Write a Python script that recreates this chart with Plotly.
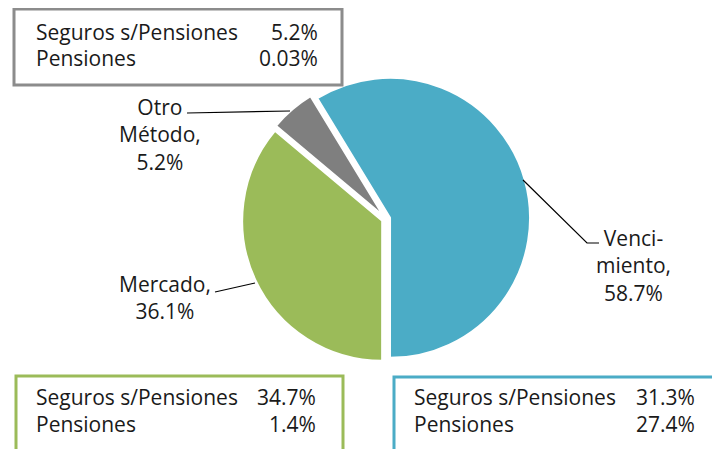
import plotly.graph_objects as go

# Datos
categorias = ["Vencimiento", "Mercado", "Otro Método"]
etiquetas = ["Venci-<br>miento", "Mercado", "Otro<br>Método"]
porcentajes = [58.7, 36.1, 5.2]
seguros_pct = ["31.3%", "34.7%", "5.2%"]
pensiones_pct = ["27.4%", "1.4%", "0.03%"]

COLORES = ["#4BACC6", "#9BBB59", "#7F7F7F"]
# la pagina deja 8px de margen en el body: la figura ocupa el resto
OFF = 8
W, H = 720 - OFF, 449 - OFF
FUENTE = "Open Sans"
TAM = 21


def px_x(x):
    return (x - OFF) / W


def px_y(y):
    return 1 - (y - OFF) / H


# pie: centro (386, 219), radio 140 px, pull 0.03
cx, cy, r, pull = 386, 219, 140, 0.03
half = r * (1 + pull)

fig = go.Figure(
    go.Pie(
        labels=categorias,
        values=porcentajes,
        sort=False,
        direction="clockwise",
        rotation=-31.3,
        pull=[pull] * 3,
        marker=dict(colors=COLORES, line=dict(color="white", width=2)),
        textinfo="none",
        hoverinfo="label+percent",
        domain=dict(x=[px_x(cx - half), px_x(cx + half)],
                    y=[px_y(cy + half), px_y(cy - half)]),
        showlegend=False,
    )
)

# Etiquetas de porciones y lineas guia
pos_etiquetas = [(633, 265), (165, 297), (160, 134)]
guias = [
    [(523, 180), (587, 243), (599, 243)],
    [(215, 292), (255, 283)],
    [(187, 113), (290, 111)],
]
for i, (x, y) in enumerate(pos_etiquetas):
    fig.add_annotation(
        text=f"{etiquetas[i]},<br>{porcentajes[i]}%",
        x=px_x(x), y=px_y(y), xref="paper", yref="paper",
        xanchor="center", yanchor="middle",
        showarrow=False, align="center",
        font=dict(family=FUENTE, size=TAM, color="#1a1a1a"),
    )
for pts in guias:
    path = "M " + " L ".join(f"{px_x(a)},{px_y(b)}" for a, b in pts)
    fig.add_shape(type="path", path=path, xref="paper", yref="paper",
                  line=dict(color="black", width=1.2))

# Cuadros con el desglose
cajas = [
    # (x0, y0, x1, y1, color, indice, x_texto_izq, x_texto_der, y_fila1)
    (14, 9, 342, 85, "#8C8C8C", 2, 34, 320, 32),
    (16, 376, 343, 470, "#9BBB59", 1, 34, 318, 397),
    (394, 377, 717, 470, "#4BACC6", 0, 412, 697, 397),
]
for x0, y0, x1, y1, col, i, xl, xr, yf in cajas:
    fig.add_shape(type="rect", xref="paper", yref="paper",
                  x0=px_x(x0), y0=px_y(y0), x1=px_x(x1), y1=px_y(y1),
                  line=dict(color=col, width=3), fillcolor="white")
    filas = [("Seguros s/Pensiones", seguros_pct[i]), ("Pensiones", pensiones_pct[i])]
    for k, (nombre, valor) in enumerate(filas):
        yy = px_y(yf + 26.5 * k)
        fig.add_annotation(text=nombre, x=px_x(xl), y=yy, xref="paper", yref="paper",
                           xanchor="left", yanchor="middle", showarrow=False,
                           font=dict(family=FUENTE, size=TAM, color="#1a1a1a"))
        fig.add_annotation(text=valor, x=px_x(xr), y=yy, xref="paper", yref="paper",
                           xanchor="right", yanchor="middle", showarrow=False,
                           font=dict(family=FUENTE, size=TAM, color="#1a1a1a"))

fig.update_layout(
    width=W, height=H,
    margin=dict(l=0, r=0, t=0, b=0),
    paper_bgcolor="white",
    plot_bgcolor="white",
)

fig.write_html("out.html")
